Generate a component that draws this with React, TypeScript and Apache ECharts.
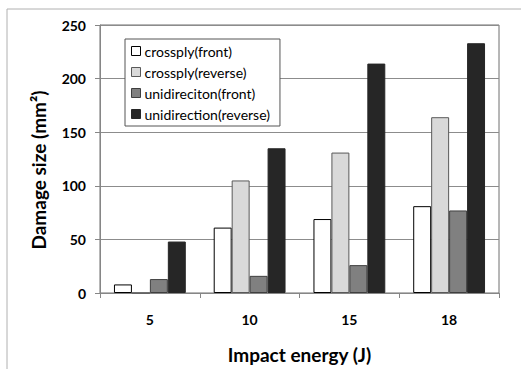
import React, { useEffect, useRef } from "react";
import * as echarts from "echarts";

const categories = ["5", "10", "15", "18"];
const seriesNames = [
  "crossply(front)",
  "crossply(reverse)",
  "unidireciton(front)",
  "unidirection(reverse)",
];
const crossplyFront = [8, 61, 69, 81];
const crossplyReverse = [0, 105, 131, 164];
const uniFront = [13, 16, 26, 77];
const uniReverse = [48, 135, 214, 233];
const yTicks = [0, 50, 100, 150, 200, 250];

const fillColors = ["#ffffff", "#d9d9d9", "#808080", "#262626"];
const borderColors = ["#000000", "#595959", "#3f3f3f", "#262626"];

export default function App() {
  const ref = useRef<HTMLDivElement>(null);
  useEffect(() => {
    if (!ref.current) return;
    const chart = echarts.init(ref.current, null, { renderer: "svg" });
    const values = [crossplyFront, crossplyReverse, uniFront, uniReverse];
    const font = "Lato, 'Open Sans', sans-serif";
    chart.setOption({
      animation: false,
      backgroundColor: "#ffffff",
      textStyle: { fontFamily: font },
      graphic: [
        {
          type: "rect",
          shape: { x: 7, y: 9, width: 540, height: 400 },
          style: { fill: "none", stroke: "#b0b0b0", lineWidth: 1 },
          silent: true,
          z: -10,
        },
      ],
      grid: {
        left: 100,
        top: 25,
        width: 399,
        height: 270,
        show: true,
        borderColor: "#6e6e6e",
        borderWidth: 1,
      },
      legend: {
        orient: "vertical",
        left: 125,
        top: 39,
        backgroundColor: "#ffffff",
        borderColor: "#555555",
        borderWidth: 1,
        padding: [5, 10, 5, 6],
        itemWidth: 9,
        itemHeight: 9,
        itemGap: 7,
        itemStyle: { borderWidth: 1 },
        icon: "rect",
        textStyle: {
          fontFamily: font,
          fontSize: 14,
          lineHeight: 14,
          color: "#000000",
          padding: [0, 0, 0, -1],
        },
        data: seriesNames,
        z: 10,
      },
      xAxis: {
        type: "category",
        data: categories,
        name: "Impact energy (J)",
        nameLocation: "middle",
        nameGap: 52,
        nameTextStyle: {
          fontFamily: font,
          fontSize: 19,
          fontWeight: "bold",
          color: "#000",
        },
        axisLine: { lineStyle: { color: "#868686" } },
        axisTick: { show: true, length: 5, lineStyle: { color: "#868686" } },
        axisLabel: {
          margin: 19,
          fontFamily: font,
          fontSize: 14,
          fontWeight: "bold",
          color: "#000",
        },
        splitLine: { show: false },
      },
      yAxis: {
        type: "value",
        min: yTicks[0],
        max: yTicks[yTicks.length - 1],
        interval: 50,
        name: "Damage size (mm²)",
        nameLocation: "middle",
        nameGap: 52,
        nameRotate: 90,
        nameTextStyle: {
          fontFamily: font,
          fontSize: 19,
          fontWeight: "bold",
          color: "#000",
          padding: [0, 22, 0, 0],
        },
        axisLine: { show: true, lineStyle: { color: "#868686" } },
        axisTick: { show: true, length: 5, lineStyle: { color: "#868686" } },
        axisLabel: {
          margin: 14,
          fontFamily: font,
          fontSize: 14,
          fontWeight: "bold",
          color: "#000",
        },
        splitLine: { show: true, lineStyle: { color: "#8c8c8c", width: 1 } },
      },
      series: seriesNames.map((name, i) => ({
        name,
        type: "bar",
        data: values[i],
        barGap: "0%",
        barCategoryGap: "28%",
        itemStyle: {
          color: fillColors[i],
          borderColor: borderColors[i],
          borderWidth: 1,
        },
      })),
    });
    return () => chart.dispose();
  }, []);
  return (
    <div
      ref={ref}
      style={{ position: "fixed", left: 0, top: 0, width: 521, height: 369 }}
    />
  );
}
